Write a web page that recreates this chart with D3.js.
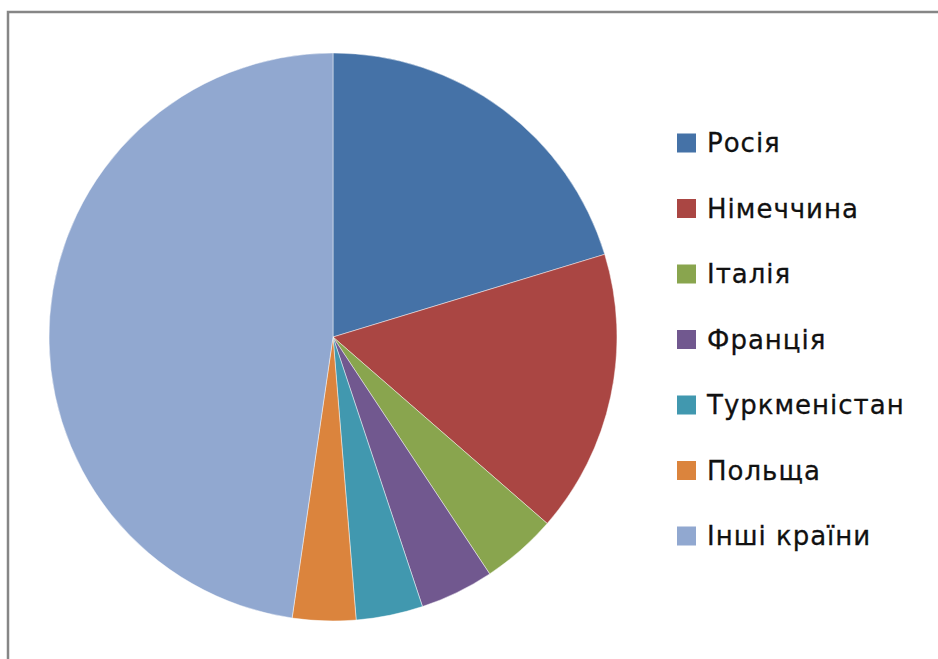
<!DOCTYPE html>
<html>
<head>
<meta charset="utf-8">
<script src="https://cdn.jsdelivr.net/npm/d3@7"></script>
<style>
  body { margin: 0; background: #fff; }
</style>
</head>
<body>
<script>
// chart values (share of total, %)
const countries = ["Росія", "Німеччина", "Італія", "Франція", "Туркменістан", "Польща", "Інші країни"];
const shares = [20.3, 16.1, 4.3, 4.2, 3.8, 3.6, 47.7];
const colors = ["#4572A7", "#AA4643", "#89A54E", "#71588F", "#4198AF", "#DB843D", "#91A8D0"];

const w = 938;
const h = 659;

const svg = d3.select("body")
              .append("svg")
              .attr("width", w)
              .attr("height", h);

// chart area frame (only top and left edge are visible in the picture)
svg.append("rect")
   .attr("x", 8)
   .attr("y", 12)
   .attr("width", w + 20)
   .attr("height", h + 20)
   .attr("fill", "#fff")
   .attr("stroke", "#868686")
   .attr("stroke-width", 2.5);

const color = d3.scaleOrdinal()
                .domain(countries)
                .range(colors);

const pie = d3.pie()
              .sort(null)   // keep the order, start at 12 o'clock clockwise
              .value(d => d.value);

const data = countries.map((c, i) => ({ name: c, value: shares[i] }));

const r = 284;
const arc = d3.arc().innerRadius(0).outerRadius(r);

const pieG = svg.append("g")
                .attr("transform", "translate(333, 337)");

pieG.selectAll("path")
    .data(pie(data))
    .enter()
    .append("path")
    .attr("d", arc)
    .attr("fill", d => color(d.data.name))
    .attr("stroke", "rgba(255,255,255,0.45)")
    .attr("stroke-width", 1);

// legend
const legend = svg.append("g")
                  .attr("transform", "translate(677, 143)");

const item = legend.selectAll("g")
                   .data(countries)
                   .enter()
                   .append("g")
                   .attr("transform", (d, i) => `translate(0, ${i * 65.5})`);

item.append("rect")
    .attr("x", 0)
    .attr("y", -9.5)
    .attr("width", 19)
    .attr("height", 19)
    .attr("fill", d => color(d));

item.append("text")
    .text(d => d)
    .attr("x", 30)
    .attr("y", 0)
    .attr("dy", "0.36em")
    .style("font-family", "'DejaVu Sans', sans-serif")
    .style("font-size", "26px")
    .style("letter-spacing", "1px")
    .attr("fill", "#111")
    .attr("stroke", "#111")
    .attr("stroke-width", 0.3);
</script>
</body>
</html>
